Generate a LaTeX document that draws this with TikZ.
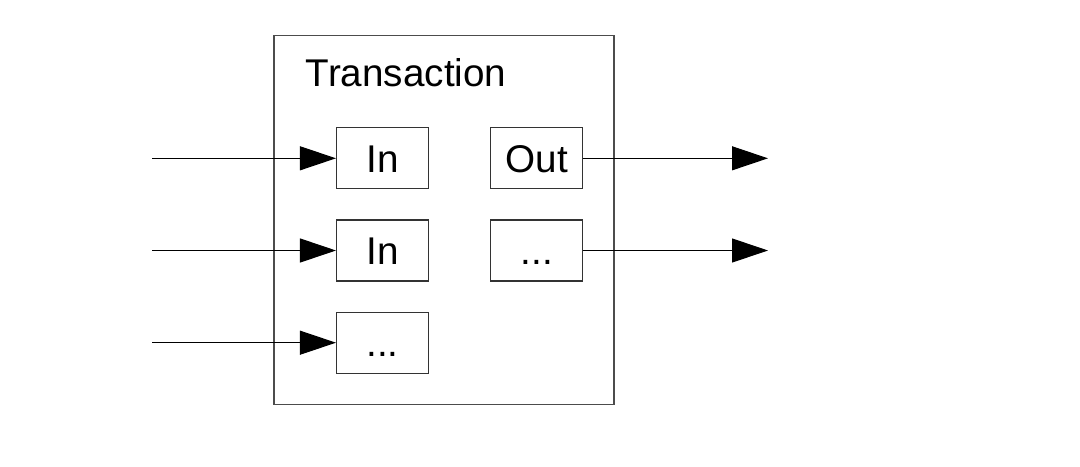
\documentclass[tikz,border=0pt]{standalone}
\usepackage{fontspec}
\setmainfont{Liberation Sans}
\usetikzlibrary{arrows.meta}

\begin{document}
\begin{tikzpicture}[x=0.02cm, y=-0.02cm,
    font=\fontsize{22}{26}\selectfont,
    part/.style={draw=black!80, line width=0.6pt, inner sep=0pt,
      minimum width=92*0.02cm, minimum height=61*0.02cm,
      text height=0.716*22pt, text depth=0pt},
    flow/.style={line width=0.6pt, -{Triangle[length=0.72cm, width=0.48cm]}}]
       \useasboundingbox (0,0) rectangle (1080,467);
       \node[draw=black!70, line width=0.6pt, inner sep=0pt,
         minimum width=340*0.02cm, minimum height=369*0.02cm] (tx) at (444,219.7) {};
       \node[anchor=base west, inner sep=0pt] (title) at (305.5,86.7) {Transaction};

       \node[part] (in1) at (382.5,158.3) {In};
       \node[part] (in2) at (382.5,250.5) {In};
       \node[part] (in3) at (382.5,342.7) {...};
       \node[part] (out1) at (536.8,158.3) {Out};
       \node[part] (out2) at (536.8,250.5) {...};

       \coordinate (s1) at (152,158.3);
       \coordinate (s2) at (152,250.5);
       \coordinate (s3) at (152,342.7);
       \coordinate (e1) at (768,158.3);
       \coordinate (e2) at (768,250.5);

       \draw[flow] (s1) -- (in1);
       \draw[flow] (s2) -- (in2);
       \draw[flow] (s3) -- (in3);
       \draw[flow] (out1) -- (e1);
       \draw[flow] (out2) -- (e2);
      \end{tikzpicture}
\end{document}
